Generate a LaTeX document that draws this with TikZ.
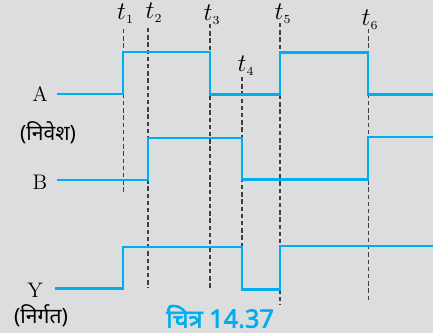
\documentclass[tikz,border=0pt]{standalone}
\usepackage{fontspec}
\newfontfamily\devfont[Script=Devanagari]{Noto Sans}
\newfontfamily\devbold[Script=Devanagari,FakeBold=2.5]{Noto Sans}
\usetikzlibrary{calc}
\definecolor{sigblue}{HTML}{00AEEF}
\definecolor{pagegray}{HTML}{DCDDDF}

\begin{document}
\begin{tikzpicture}[x=0.02cm,y=-0.02cm]
  \fill[pagegray] (0,0) rectangle (433,333);
  \useasboundingbox (0,0) rectangle (433,333);
  \tikzset{
    signal/.style={sigblue,line width=1.2pt},
    tline/.style={black!75,line width=0.6pt,dash pattern=on 2.5pt off 1.6pt},
    tlabel/.style={font=\Large}
  }
  % time marks
  \coordinate (T1) at (123.3,0);
  \coordinate (T2) at (148,0);
  \coordinate (T3) at (210,0);
  \coordinate (T4) at (242,0);
  \coordinate (T5) at (280,0);
  \coordinate (T6) at (368.3,0);
  \draw[tline] (T1 |- 0,29) -- (T1 |- 0,194);
  \draw[tline] (T2 |- 0,28) -- (T2 |- 0,288);
  \draw[tline] (T3 |- 0,24) -- (T3 |- 0,289);
  \draw[tline] (T4 |- 0,77) -- (T4 |- 0,289);
  \draw[tline] (T5 |- 0,23) -- (T5 |- 0,305);
  \draw[tline] (T6 |- 0,29) -- (T6 |- 0,302);
  \node[tlabel] (l1) at (125.5,14) {$t_{\scriptscriptstyle 1}$};
  \node[tlabel] (l2) at (154,13) {$t_{\scriptscriptstyle 2}$};
  \node[tlabel] (l3) at (212,15) {$t_{\scriptscriptstyle 3}$};
  \node[tlabel] (l4) at (246,66) {$t_{\scriptscriptstyle 4}$};
  \node[tlabel] (l5) at (283,14) {$t_{\scriptscriptstyle 5}$};
  \node[tlabel] (l6) at (370,20) {$t_{\scriptscriptstyle 6}$};
  % signals
  \draw[signal] (57,94) -- (123.3,94) -- (123.3,51.7) -- (210,51.7)
    -- (210,94.5) -- (280,94.5) -- (280,52.5) -- (368.3,52.5)
    -- (368.3,94.5) -- (433,94.5);
  \draw[signal] (57,180) -- (148,180) -- (148,138) -- (242,138)
    -- (242,179.5) -- (368.3,179.5) -- (368.3,137) -- (433,137);
  \draw[signal] (55,288.5) -- (123.3,288.5) -- (123.3,246.7) -- (242,246.7)
    -- (242,289.5) -- (280,289.5) -- (280,246) -- (433,246);
  % labels
  \node[font=\large] (a) at (40,94) {A};
  \node[font=\devfont\large] (in) at (48,133) {(निवेश)};
  \node[font=\large] (b) at (40,182) {B};
  \node[font=\large] (y) at (35,290) {Y};
  \node[font=\devfont\large] (out) at (41,316) {(निर्गत)};
  \node[font=\devbold\Large,text=sigblue,inner sep=1pt] (cap) at (220,316.5) {चित्र 14.37};
\end{tikzpicture}
\end{document}
